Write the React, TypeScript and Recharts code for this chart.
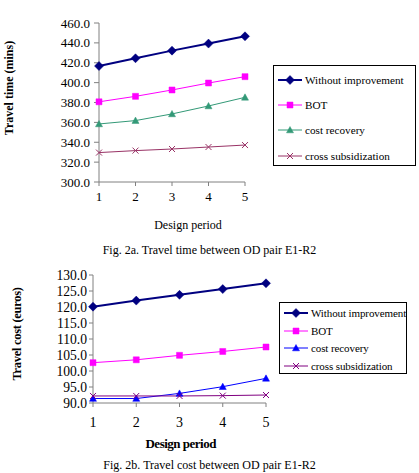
import React from 'react';
import { LineChart, Line, XAxis, YAxis } from 'recharts';

const periods = [1, 2, 3, 4, 5];

const timeWithout = [416.7, 424.5, 432.2, 439.3, 446.6];
const timeBot = [380.7, 386.2, 392.6, 399.6, 406.0];
const timeCostRecovery = [358.4, 361.8, 368.5, 376.5, 385.2];
const timeCrossSub = [329.6, 331.6, 333.2, 335.2, 337.2];
const timeTicks = [300, 320, 340, 360, 380, 400, 420, 440, 460];

const costWithout = [120.1, 122.0, 123.8, 125.6, 127.4];
const costBot = [102.6, 103.5, 104.9, 106.1, 107.5];
const costCostRecovery = [91.4, 91.4, 93.0, 95.1, 97.7];
const costCrossSub = [92.2, 92.2, 92.2, 92.3, 92.5];
const costTicks = [90, 95, 100, 105, 110, 115, 120, 125, 130];

const seriesNames = ['Without improvement', 'BOT', 'cost recovery', 'cross subsidization'];

const FONT = '"Liberation Serif", "Times New Roman", serif';

const timeData = periods.map((p, i) => ({
    period: p,
    without: timeWithout[i],
    bot: timeBot[i],
    costRecovery: timeCostRecovery[i],
    crossSub: timeCrossSub[i],
}));

const costData = periods.map((p, i) => ({
    period: p,
    without: costWithout[i],
    bot: costBot[i],
    costRecovery: costCostRecovery[i],
    crossSub: costCrossSub[i],
}));

type Shape = 'diamond' | 'square' | 'triangle' | 'x';

function markerPath(shape: Shape, cx: number, cy: number, s: number) {
    if (shape === 'diamond') return `M${cx},${cy - s}L${cx + s},${cy}L${cx},${cy + s}L${cx - s},${cy}Z`;
    if (shape === 'square') return `M${cx - s},${cy - s}h${2 * s}v${2 * s}h${-2 * s}Z`;
    if (shape === 'triangle') return `M${cx},${cy - s}L${cx + s},${cy + s * 0.8}L${cx - s},${cy + s * 0.8}Z`;
    return `M${cx - s},${cy - s}L${cx + s},${cy + s}M${cx - s},${cy + s}L${cx + s},${cy - s}`;
}

function Marker({ shape, cx, cy, size, color }: { shape: Shape; cx: number; cy: number; size: number; color: string }) {
    const d = markerPath(shape, cx, cy, size);
    if (shape === 'x') return <path d={d} stroke={color} strokeWidth={1} fill="none" />;
    return <path d={d} fill={color} stroke={color} strokeWidth={0.5} />;
}

const makeDot = (shape: Shape, size: number, color: string) => (props: any) => (
    <Marker key={`dot-${props.index}`} shape={shape} cx={props.cx} cy={props.cy} size={size} color={color} />
);

interface SeriesStyle {
    key: string;
    color: string;
    width: number;
    shape: Shape;
    size: number;
}

const timeSeries: SeriesStyle[] = [
    { key: 'without', color: '#000080', width: 2, shape: 'diamond', size: 4.5 },
    { key: 'bot', color: '#ff00ff', width: 1, shape: 'square', size: 3 },
    { key: 'costRecovery', color: '#339977', width: 1, shape: 'triangle', size: 3.5 },
    { key: 'crossSub', color: '#993366', width: 1, shape: 'x', size: 3 },
];

const costSeries: SeriesStyle[] = [
    { key: 'without', color: '#000080', width: 2, shape: 'diamond', size: 4.5 },
    { key: 'bot', color: '#ff00ff', width: 1, shape: 'square', size: 3 },
    { key: 'costRecovery', color: '#0000ff', width: 1, shape: 'triangle', size: 3.5 },
    { key: 'crossSub', color: '#800080', width: 1, shape: 'x', size: 3 },
];

function LegendBox({ series, style, rowHeight, fontSize, letterSpacing }: {
    series: SeriesStyle[];
    style: React.CSSProperties;
    rowHeight: number;
    fontSize: number;
    letterSpacing: number;
}) {
    return (
        <div
            style={{
                position: 'absolute',
                border: '1px solid #000',
                background: '#fff',
                boxSizing: 'border-box',
                fontFamily: FONT,
                fontSize,
                letterSpacing,
                ...style,
            }}
        >
            {series.map((s, i) => (
                <div key={s.key} style={{ display: 'flex', alignItems: 'center', height: rowHeight, whiteSpace: 'nowrap' }}>
                    <svg width={26} height={12} style={{ marginLeft: 3, marginRight: 2, flex: 'none' }}>
                        <line x1={1} y1={6} x2={25} y2={6} stroke={s.color} strokeWidth={s.width} />
                        <Marker shape={s.shape} cx={13} cy={6} size={s.size} color={s.color} />
                    </svg>
                    <span>{seriesNames[i]}</span>
                </div>
            ))}
        </div>
    );
}

const abs = (left: number, top: number, extra: React.CSSProperties = {}): React.CSSProperties => ({
    position: 'absolute',
    left,
    top,
    transform: 'translate(-50%, -50%)',
    whiteSpace: 'nowrap',
    fontFamily: FONT,
    ...extra,
});

export default function App() {
    return (
        <div style={{ position: 'absolute', left: 0, top: 0, width: 419, height: 473, background: '#fff', overflow: 'hidden' }}>
            <div style={{ position: 'absolute', left: 0, top: 0 }}>
                <LineChart width={419} height={250} data={timeData} margin={{ top: 23, right: 174, bottom: 38, left: 0 }}>
                    <XAxis
                        dataKey="period"
                        stroke="#808080"
                        tickSize={4}
                        tickMargin={6}
                        height={30}
                        tick={{ fill: '#000', fontSize: 13, fontFamily: FONT }}
                    />
                    <YAxis
                        width={99}
                        domain={[300, 460]}
                        ticks={timeTicks}
                        interval={0}
                        stroke="#808080"
                        tickSize={5}
                        tickMargin={4}
                        tickFormatter={(v: number) => v.toFixed(1)}
                        tick={{ fill: '#000', fontSize: 13, fontFamily: FONT }}
                    />
                    {timeSeries.map((s) => (
                        <Line
                            key={s.key}
                            type="linear"
                            dataKey={s.key}
                            stroke={s.color}
                            strokeWidth={s.width}
                            dot={makeDot(s.shape, s.size, s.color)}
                            activeDot={false}
                            isAnimationActive={false}
                        />
                    ))}
                </LineChart>
            </div>
            <div style={abs(8.5, 87.5, { transform: 'translate(-50%, -50%) rotate(-90deg)', fontSize: 12, fontWeight: 'bold' })}>
                Travel time (mins)
            </div>
            <div style={abs(188, 225, { fontSize: 12 })}>Design period</div>
            <div style={abs(209.5, 250, { fontSize: 12 })}>Fig. 2a. Travel time between OD pair E1-R2</div>
            <LegendBox
                series={timeSeries}
                style={{ left: 273, top: 65, width: 143, height: 101, paddingTop: 1 }}
                rowHeight={25.3}
                fontSize={11.2}
                letterSpacing={0}
            />

            <div style={{ position: 'absolute', left: 0, top: 250 }}>
                <LineChart width={419} height={223} data={costData} margin={{ top: 25, right: 153, bottom: 40, left: 0 }}>
                    <XAxis
                        dataKey="period"
                        stroke="#808080"
                        tickSize={4}
                        tickMargin={10}
                        height={30}
                        tick={{ fill: '#000', fontSize: 14, fontFamily: FONT }}
                    />
                    <YAxis
                        width={93}
                        domain={[90, 130]}
                        ticks={costTicks}
                        interval={0}
                        stroke="#808080"
                        tickSize={4}
                        tickMargin={2}
                        tickFormatter={(v: number) => v.toFixed(1)}
                        tick={{ fill: '#000', fontSize: 13.6, fontFamily: FONT }}
                    />
                    {costSeries.map((s) => (
                        <Line
                            key={s.key}
                            type="linear"
                            dataKey={s.key}
                            stroke={s.color}
                            strokeWidth={s.width}
                            dot={makeDot(s.shape, s.size, s.color)}
                            activeDot={false}
                            isAnimationActive={false}
                        />
                    ))}
                </LineChart>
            </div>
            <div style={abs(17, 334, { transform: 'translate(-50%, -50%) rotate(-90deg)', fontSize: 12.5, fontWeight: 'bold', letterSpacing: -0.3 })}>
                Travel cost (euros)
            </div>
            <div style={abs(180.7, 444, { fontSize: 13, fontWeight: 'bold', letterSpacing: -0.5 })}>Design period</div>
            <div style={abs(209.5, 464.5, { fontSize: 12 })}>Fig. 2b. Travel cost between OD pair E1-R2</div>
            <LegendBox
                series={costSeries}
                style={{ left: 279, top: 302, width: 128, height: 72, paddingTop: 1 }}
                rowHeight={17.8}
                fontSize={11}
                letterSpacing={-0.1}
            />
        </div>
    );
}
